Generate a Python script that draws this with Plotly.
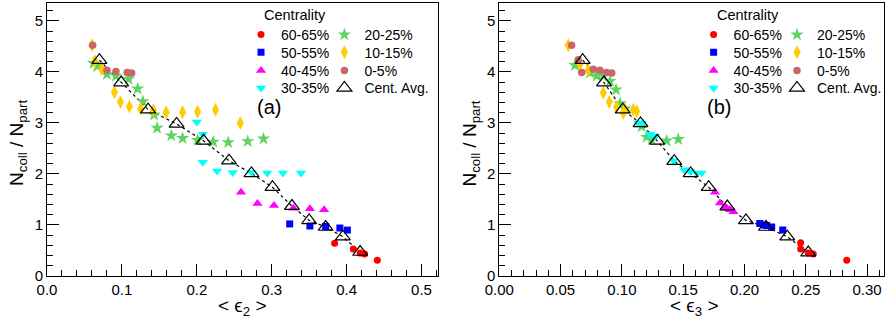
import plotly.graph_objects as go

# ---------------- data : panel (a)  <eps2> ----------------
c60_x2 = [0.384, 0.409, 0.418, 0.424, 0.441]
c60_y2 = [0.64, 0.53, 0.45, 0.43, 0.31]
c50_x2 = [0.324, 0.351, 0.372, 0.391, 0.401]
c50_y2 = [1.02, 0.98, 0.97, 0.94, 0.90]
c40_x2 = [0.259, 0.281, 0.303, 0.329, 0.351, 0.370]
c40_y2 = [1.64, 1.42, 1.38, 1.33, 1.32, 1.30]
c30_x2 = [0.200, 0.208, 0.208, 0.227, 0.248, 0.273, 0.294, 0.315, 0.339]
c30_y2 = [3.02, 2.78, 2.23, 2.06, 2.03, 2.03, 2.02, 2.02, 2.02]
c20_x2 = [0.062, 0.067, 0.080, 0.092, 0.109, 0.121, 0.128, 0.143, 0.147, 0.166,
          0.181, 0.201, 0.222, 0.242, 0.268, 0.289]
c20_y2 = [4.17, 4.11, 3.95, 3.92, 3.86, 3.67, 3.42, 3.16, 2.90, 2.75,
          2.70, 2.66, 2.63, 2.62, 2.64, 2.69]
c10_x2 = [0.060, 0.064, 0.073, 0.090, 0.098, 0.110, 0.125, 0.142, 0.159, 0.181,
          0.201, 0.225, 0.258]
c10_y2 = [4.52, 4.21, 4.05, 3.60, 3.41, 3.32, 3.28, 3.25, 3.21, 3.21,
          3.22, 3.26, 3.00]
c0_x2 = [0.061, 0.080, 0.092, 0.107, 0.113]
c0_y2 = [4.52, 4.03, 4.01, 3.99, 3.98]
avg_x2 = [0.070, 0.099, 0.135, 0.173, 0.209, 0.243, 0.273, 0.301, 0.327, 0.350,
          0.372, 0.395, 0.418]
avg_y2 = [4.23, 3.79, 3.26, 2.98, 2.65, 2.26, 2.01, 1.74, 1.37, 1.09,
          0.96, 0.77, 0.47]

# ---------------- data : panel (b)  <eps3> ----------------
c60_x3 = [0.2458, 0.2458, 0.2520, 0.2561, 0.2834]
c60_y3 = [0.65, 0.53, 0.45, 0.43, 0.31]
c50_x3 = [0.2125, 0.2160, 0.2181, 0.2222, 0.2312]
c50_y3 = [1.03, 1.00, 0.99, 0.96, 0.90]
c40_x3 = [0.1759, 0.1800, 0.1841, 0.1857, 0.1882, 0.1909]
c40_y3 = [1.64, 1.43, 1.35, 1.33, 1.30, 1.26]
c30_x3 = [0.1134, 0.1162, 0.1229, 0.1270, 0.1421, 0.1507, 0.1556, 0.1610, 0.1651]
c30_y3 = [3.00, 3.00, 2.78, 2.74, 2.26, 2.08, 2.05, 2.02, 2.02]
c20_x3 = [0.0617, 0.0739, 0.0794, 0.0848, 0.0903, 0.0952, 0.0985, 0.1025, 0.1161,
          0.1202, 0.1243, 0.1365, 0.1460]
c20_y3 = [4.13, 3.98, 3.92, 3.93, 3.82, 3.65, 3.38, 3.28, 2.93,
          2.72, 2.67, 2.65, 2.68]
c10_x3 = [0.0563, 0.0658, 0.0726, 0.0848, 0.0897, 0.0958, 0.1011, 0.1025, 0.1093, 0.1121]
c10_y3 = [4.52, 4.15, 4.03, 3.59, 3.41, 3.31, 3.20, 3.26, 3.26, 3.23]
c0_x3 = [0.0590, 0.0644, 0.0672, 0.0767, 0.0821, 0.0876, 0.0917]
c0_y3 = [4.52, 4.24, 3.99, 4.05, 4.03, 3.99, 3.98]
avg_x3 = [0.0680, 0.0854, 0.1007, 0.1152, 0.1288, 0.1427, 0.1561, 0.1708, 0.1860,
          0.2012, 0.2175, 0.2349, 0.2520]
avg_y3 = [4.23, 3.79, 3.26, 2.99, 2.65, 2.25, 2.01, 1.74, 1.36, 1.09,
          0.96, 0.77, 0.46]

labels = ["60-65%", "20-25%", "50-55%", "10-15%", "40-45%", "0-5%", "30-35%"]

# ---------------- layout helpers ----------------
W, H = 886, 320
ML, MR, MT, MB = 47, 2, 3, 44
PW, PH = W - ML - MR, H - MT - MB


def fx(px):
    return (px - ML) / PW


def fy(py):
    return (H - MB - py) / PH


FONT = "Liberation Sans, Arial, Helvetica, sans-serif"

styles = {
    "60-65%": ("circle", "#ff0000", 7),
    "20-25%": ("star", "#5fd35f", 10),
    "50-55%": ("square", "#0000ff", 7),
    "10-15%": ("diamond-tall", "#ffcc00", 10),
    "40-45%": ("triangle-up", "#ff00ff", 9),
    "0-5%": ("circle", "#cc6666", 7.5),
    "30-35%": ("triangle-down", "#00ffff", 9),
}

panels = [
    {"x": "x", "y": "y",
     "series": {"60-65%": (c60_x2, c60_y2), "20-25%": (c20_x2, c20_y2),
                "50-55%": (c50_x2, c50_y2), "10-15%": (c10_x2, c10_y2),
                "40-45%": (c40_x2, c40_y2), "0-5%": (c0_x2, c0_y2),
                "30-35%": (c30_x2, c30_y2)},
     "avg": (avg_x2, avg_y2)},
    {"x": "x2", "y": "y2",
     "series": {"60-65%": (c60_x3, c60_y3), "20-25%": (c20_x3, c20_y3),
                "50-55%": (c50_x3, c50_y3), "10-15%": (c10_x3, c10_y3),
                "40-45%": (c40_x3, c40_y3), "0-5%": (c0_x3, c0_y3),
                "30-35%": (c30_x3, c30_y3)},
     "avg": (avg_x3, avg_y3)},
]

PANEL_SHIFT = 452.6
ROW_Y = [35, 52.7, 71, 88.3]
LEG_X0 = 241
COL1_W, COL2_W = 38.4, 72

fig = go.Figure()


def legname(p, r):
    idx = p * 4 + r
    return "legend" if idx == 0 else "legend%d" % (idx + 1)


for p, pan in enumerate(panels):
    ax, ay = pan["x"], pan["y"]
    fig.add_trace(go.Scatter(x=pan["avg"][0], y=pan["avg"][1], mode="lines",
                             line=dict(color="black", width=1.2, dash="dot"),
                             xaxis=ax, yaxis=ay, showlegend=False, hoverinfo="skip"))
    for i, lab in enumerate(labels):
        sym, col, sz = styles[lab]
        xs, ys = pan["series"][lab]
        fig.add_trace(go.Scatter(x=xs, y=ys, mode="markers", name=lab,
                                 marker=dict(symbol=sym, color=col, size=sz,
                                             line=dict(width=0)),
                                 legendwidth=COL1_W if i % 2 == 0 else COL2_W,
                                 xaxis=ax, yaxis=ay, legend=legname(p, i // 2)))
    fig.add_trace(go.Scatter(x=pan["avg"][0], y=pan["avg"][1], mode="markers",
                             name="Cent. Avg.", legendwidth=COL2_W,
                             marker=dict(symbol="triangle-up-open", color="black",
                                         size=13, line=dict(width=1.2, color="black")),
                             xaxis=ax, yaxis=ay, legend=legname(p, 3)))

axis_common = dict(showline=True, linecolor="black", linewidth=1, mirror=True,
                   showgrid=False, zeroline=False, ticks="inside", ticklen=12,
                   tickcolor="black", tickwidth=1, automargin=False,
                   tickfont=dict(family=FONT, size=15, color="black"))

layout = dict(
    width=W, height=H, margin=dict(l=ML, r=MR, t=MT, b=MB, autoexpand=False),
    paper_bgcolor="white", plot_bgcolor="white",
    font=dict(family=FONT, color="black"),
    xaxis=dict(domain=[0, fx(438)], range=[0, 0.522], dtick=0.1, tick0=0,
               tickformat=".1f", anchor="y",
               minor=dict(dtick=0.02, ticks="inside", ticklen=6, tickcolor="black"),
               **axis_common),
    yaxis=dict(domain=[0, 1], range=[0, 5.35], dtick=1, tick0=0, anchor="x",
               minor=dict(dtick=0.2, ticks="inside", ticklen=6, tickcolor="black"),
               **axis_common),
    xaxis2=dict(domain=[fx(499.3), 1], range=[0, 0.3138], dtick=0.05, tick0=0,
                tickformat=".2f", anchor="y2",
                minor=dict(dtick=0.01, ticks="inside", ticklen=6, tickcolor="black"),
                **axis_common),
    yaxis2=dict(domain=[0, 1], range=[0, 5.35], dtick=1, tick0=0, anchor="x2",
                minor=dict(dtick=0.2, ticks="inside", ticklen=6, tickcolor="black"),
                **axis_common),
)

for p in range(2):
    for r in range(4):
        layout[legname(p, r)] = dict(
            x=fx(LEG_X0 + p * PANEL_SHIFT), y=fy(ROW_Y[r]),
            xanchor="left", yanchor="middle", orientation="h",
            bgcolor="rgba(0,0,0,0)", borderwidth=0,
            font=dict(family=FONT, size=14, color="black"),
            traceorder="normal")

fig.update_layout(**layout)

annots = []
for p, (sub, tag) in enumerate([("2", "(a)"), ("3", "(b)")]):
    sh = p * PANEL_SHIFT
    annots.append(dict(x=fx(242 + (694 - 242) * p), y=fy(307), xref="paper", yref="paper",
                       text="< \u03f5<sub>%s</sub> >" % sub, showarrow=False,
                       font=dict(family=FONT, size=19), xanchor="center", yanchor="middle"))
    annots.append(dict(x=fx(17.5 + sh), y=fy(143.5), xref="paper", yref="paper",
                       text="N<sub>coll</sub> / N<sub>part</sub>", showarrow=False,
                       textangle=-90,
                       font=dict(family=FONT, size=19), xanchor="center", yanchor="middle"))
    annots.append(dict(x=fx(262 + sh), y=fy(15), xref="paper", yref="paper",
                       text="Centrality", showarrow=False,
                       font=dict(family=FONT, size=14.5), xanchor="left", yanchor="middle"))
    annots.append(dict(x=fx(268.5 + sh - 2 * p), y=fy(106.5), xref="paper", yref="paper",
                       text=tag, showarrow=False,
                       font=dict(family=FONT, size=20), xanchor="center", yanchor="middle"))
fig.update_layout(annotations=annots)

fig.write_html("out.html", config={"displayModeBar": False},
               post_script="document.body.style.margin='0';document.body.style.padding='0';")
